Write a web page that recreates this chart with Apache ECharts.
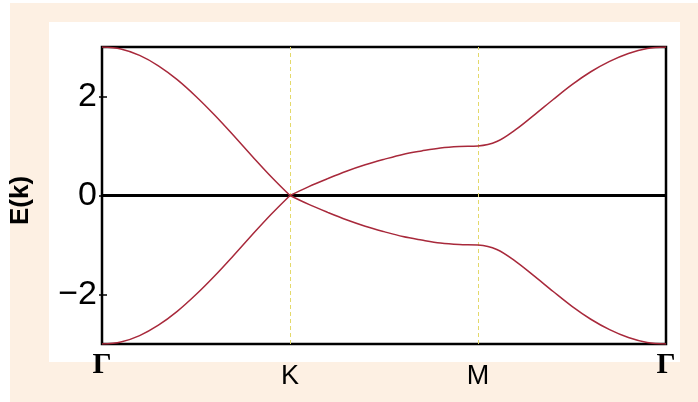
<!DOCTYPE html>
<html>
<head>
<meta charset="utf-8">
<script src="https://cdn.jsdelivr.net/npm/echarts@6/dist/echarts.min.js"></script>
<style>
  html, body { margin: 0; padding: 0; background: #ffffff; }
  #chart { width: 698px; height: 402px; }
</style>
</head>
<body>
<div id="chart"></div>
<script>
// Path through the Brillouin zone: Γ (0) → K (1) → M (2) → Γ (3)
const kPath = [
  0.0, 0.1, 0.2, 0.3, 0.4, 0.5, 0.6, 0.7, 0.8, 0.9, 1.0,
  1.1, 1.2, 1.3, 1.4, 1.5, 1.6, 1.7, 1.8, 1.9, 2.0,
  2.1, 2.2, 2.3, 2.4, 2.5, 2.6, 2.7, 2.8, 2.9, 3.0
];

// Conduction band E(k)
const upperBand = [
  3.00, 2.96, 2.83, 2.62, 2.34, 2.00, 1.62, 1.21, 0.79, 0.38, 0.00,
  0.18, 0.34, 0.49, 0.62, 0.73, 0.83, 0.90, 0.96, 0.99, 1.00,
  1.09, 1.33, 1.63, 1.94, 2.24, 2.50, 2.71, 2.87, 2.97, 3.00
];

// Valence band E(k)
const lowerBand = [
  -3.00, -2.96, -2.83, -2.62, -2.34, -2.00, -1.62, -1.21, -0.79, -0.38, 0.00,
  -0.18, -0.34, -0.49, -0.62, -0.73, -0.83, -0.90, -0.96, -0.99, -1.00,
  -1.09, -1.33, -1.63, -1.94, -2.24, -2.50, -2.71, -2.87, -2.97, -3.00
];

// High-symmetry points on the k axis
const symPos = [0, 1, 2, 3];
const symLabels = ['Γ', 'K', 'M', 'Γ'];

// Energy ticks
const energyTicks = [-2, 0, 2];

const curveColor = '#a8293b';
const guideColor = '#e4d96a';
const cuspIndex = kPath.indexOf(symPos[1]);

function pairs(xs, ys, from, to) {
  const out = [];
  for (let i = from; i <= to; i++) out.push([xs[i], ys[i]]);
  return out;
}

function bandSeries(values, from, to) {
  return {
    type: 'line',
    xAxisIndex: 0,
    yAxisIndex: 0,
    data: pairs(kPath, values, from, to),
    smooth: 0.35,
    symbol: 'none',
    silent: true,
    z: 5,
    lineStyle: { color: curveColor, width: 1.5 }
  };
}

const symLabel = (v) => symLabels[symPos.indexOf(v)];

const chart = echarts.init(document.getElementById('chart'), null, { renderer: 'canvas' });

const series = [
  bandSeries(upperBand, 0, cuspIndex),
  bandSeries(upperBand, cuspIndex, kPath.length - 1),
  bandSeries(lowerBand, 0, cuspIndex),
  bandSeries(lowerBand, cuspIndex, kPath.length - 1)
];

// reference lines: E = 0 and the K, M verticals
series[0].markLine = {
  silent: true,
  symbol: 'none',
  z: 3,
  label: { show: false },
  data: [
    { yAxis: 0, lineStyle: { color: '#000', width: 3, type: 'solid' } },
    { xAxis: symPos[1], lineStyle: { color: guideColor, width: 1, type: [4, 3] } },
    { xAxis: symPos[2], lineStyle: { color: guideColor, width: 1, type: [4, 3] } }
  ]
};

chart.setOption({
  animation: false,
  backgroundColor: '#ffffff',
  graphic: [
    { type: 'rect', z: -10, shape: { x: 10, y: 3, width: 688, height: 399 }, style: { fill: '#fdf0e3' } },
    { type: 'rect', z: -9, shape: { x: 49, y: 22, width: 631, height: 340 }, style: { fill: '#ffffff' } }
  ],
  grid: {
    left: 100, right: 32, top: 47, bottom: 58,
    show: true,
    borderColor: '#000',
    borderWidth: 2.5,
    backgroundColor: 'transparent'
  },
  xAxis: [
    {
      type: 'value', min: 0, max: 3, position: 'bottom',
      axisLine: { show: false },
      axisTick: { show: false },
      splitLine: { show: false },
      axisLabel: {
        customValues: [symPos[1], symPos[2]],
        formatter: symLabel,
        margin: 19,
        color: '#000',
        fontFamily: 'Liberation Sans, Arial, sans-serif',
        fontSize: 27
      }
    },
    {
      type: 'value', min: 0, max: 3, position: 'bottom',
      axisLine: { show: false },
      axisTick: { show: false },
      splitLine: { show: false },
      axisLabel: {
        customValues: [symPos[0], symPos[3]],
        formatter: symLabel,
        margin: 6,
        color: '#000',
        fontFamily: 'Liberation Serif, Times New Roman, serif',
        fontWeight: 'bold',
        fontSize: 30
      }
    }
  ],
  yAxis: [
    {
      type: 'value', min: -3, max: 3, position: 'left',
      name: 'E(k)',
      nameLocation: 'middle',
      nameGap: 68,
      nameTextStyle: {
        color: '#000',
        fontFamily: 'Liberation Sans, Arial, sans-serif',
        fontWeight: 'bold',
        fontSize: 26,
        padding: [0, 0, 0, -10]
      },
      axisLine: { show: false },
      axisTick: { show: true, inside: true, length: 5, customValues: energyTicks, lineStyle: { color: '#000', width: 1.5 } },
      splitLine: { show: false },
      axisLabel: {
        customValues: energyTicks,
        formatter: (v) => (v < 0 ? '\u2212' + Math.abs(v) : String(v)),
        margin: 5,
        color: '#000',
        fontFamily: 'Liberation Sans, Arial, sans-serif',
        fontSize: 34
      }
    },
    {
      type: 'value', min: -3, max: 3, position: 'right',
      axisLine: { show: false },
      axisTick: { show: true, inside: true, length: 3, customValues: energyTicks, lineStyle: { color: '#000', width: 1.5 } },
      splitLine: { show: false },
      axisLabel: { show: false }
    }
  ],
  series: series
});
</script>
</body>
</html>
